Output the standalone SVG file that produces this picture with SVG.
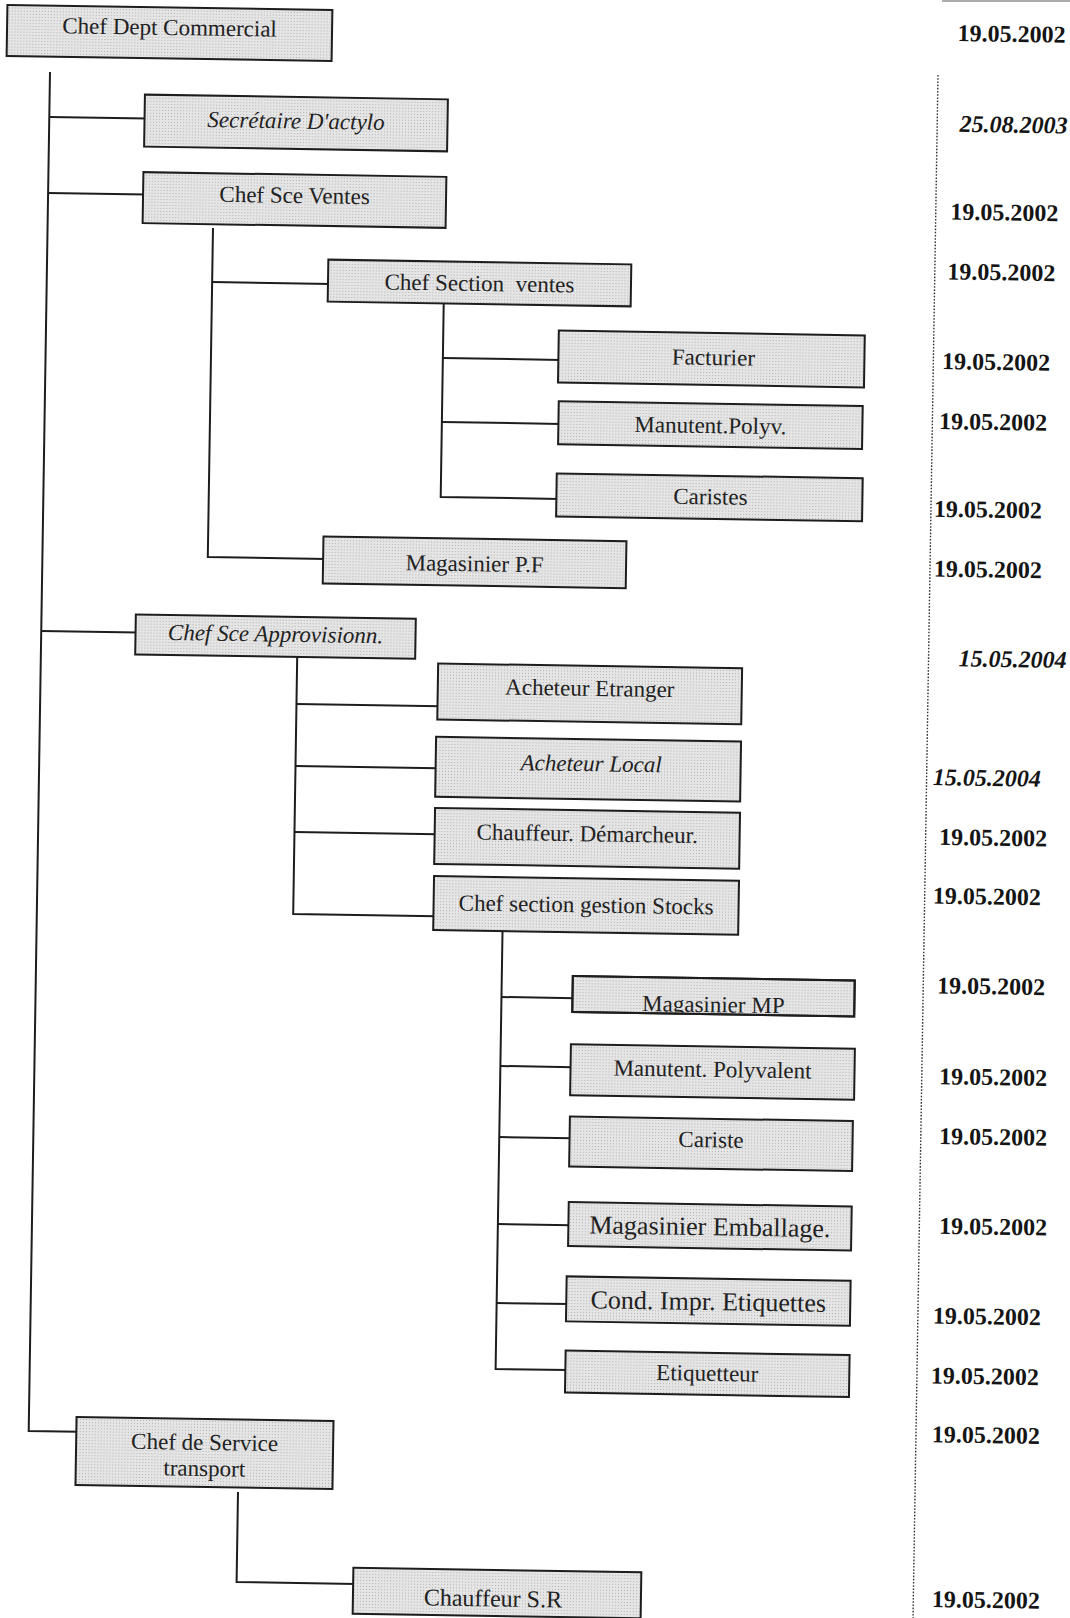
<svg xmlns="http://www.w3.org/2000/svg" width="1070" height="1618" viewBox="0 0 1070 1618">
  <defs>
    <!-- fine halftone used as the box fill -->
    <pattern id="stipple" width="3" height="3" patternUnits="userSpaceOnUse">
      <rect width="3" height="3" fill="#e5e5e5"/>
      <rect x="1" y="1" width="1" height="1" fill="#b2b2b2"/>
    </pattern>
    <clipPath id="clip-mp"><rect x="-140" y="-17" width="280" height="34"/></clipPath>
  </defs>
  <style>
    .box{fill:url(#stipple);stroke:#1d1d1d;stroke-width:2}
    .lbl{font-family:'Liberation Serif','Times New Roman',serif;font-size:23px;fill:#222;text-anchor:middle}
    .it{font-style:italic}
    .lg{font-size:26px}
    .date{font-family:'Liberation Serif','Times New Roman',serif;font-size:24px;font-weight:bold;fill:#151515}
    .wire{fill:none;stroke:#1d1d1d;stroke-width:2}
    .guide{fill:none;stroke:#333;stroke-width:1.4;stroke-dasharray:1.6 1.6}
  </style>

  <rect width="1070" height="1618" fill="#ffffff"/>
  <line x1="942" y1="1" x2="1070" y2="1" stroke="#8a8a8a" stroke-width="2" opacity="0.7"/>

  <!-- dotted rule separating the dates column -->
  <line class="guide" x1="938" y1="75" x2="913" y2="1618"/>

  <!-- org-chart connectors -->
  <g id="connectors" class="wire">
    <path d="M50,72 L28.7,1431 L79,1431.8"/>
    <path d="M49.3,117 L147,118.5"/>
    <path d="M48.1,193 L146,194.5"/>
    <path d="M41.2,631 L138,632.5"/>
    <path d="M213,228 L207.8,557 L326,558.9"/>
    <path d="M212.2,282 L331,283.9"/>
    <path d="M443.7,304 L440.7,497 L559,498.9"/>
    <path d="M442.9,358 L561,359.9"/>
    <path d="M441.9,422 L561,423.9"/>
    <path d="M297.2,657 L293.2,914 L436.5,916.2"/>
    <path d="M296.5,704 L440.5,706.3"/>
    <path d="M295.5,766 L438.5,768.3"/>
    <path d="M294.5,832 L437.5,834.3"/>
    <path d="M502.5,932 L495.6,1369 L568.5,1370.1"/>
    <path d="M501.5,997 L575.5,998.2"/>
    <path d="M500.4,1066 L573.5,1067.2"/>
    <path d="M499.3,1137 L572.5,1138.2"/>
    <path d="M497.9,1224 L571.5,1225.2"/>
    <path d="M496.7,1303 L569.5,1304.1"/>
    <path d="M238,1492 L236.6,1582 L356,1583.9"/>
  </g>

  <!-- positions -->
  <g id="n-chef-dept" transform="translate(169.5,33) rotate(0.9)">
    <rect class="box" x="-162.5" y="-25.5" width="325" height="51"/>
    <text class="lbl" y="2">Chef Dept Commercial</text>
  </g>
  <g id="n-secretaire" transform="translate(296,123) rotate(0.9)">
    <rect class="box" x="-151.5" y="-26" width="303" height="52"/>
    <text class="lbl it" y="5.5">Secrétaire D'actylo</text>
  </g>
  <g id="n-chef-ventes" transform="translate(294.5,200) rotate(0.9)">
    <rect class="box" x="-151.5" y="-25.5" width="303" height="51"/>
    <text class="lbl" y="3">Chef Sce Ventes</text>
  </g>
  <g id="n-section-ventes" transform="translate(479.5,283) rotate(0.9)">
    <rect class="box" x="-151.5" y="-21" width="303" height="42"/>
    <text class="lbl" y="8">Chef Section&#160; ventes</text>
  </g>
  <g id="n-facturier" transform="translate(711.4,359) rotate(0.9)">
    <rect class="box" x="-153" y="-26" width="306" height="52"/>
    <text class="lbl" x="2" y="6">Facturier</text>
  </g>
  <g id="n-manutent-polyv" transform="translate(710.4,425.1) rotate(0.9)">
    <rect class="box" x="-152" y="-21.5" width="304" height="43"/>
    <text class="lbl" y="8">Manutent.Polyv.</text>
  </g>
  <g id="n-caristes" transform="translate(709.4,497.3) rotate(0.9)">
    <rect class="box" x="-153" y="-21.5" width="306" height="43"/>
    <text class="lbl" x="1" y="7">Caristes</text>
  </g>
  <g id="n-magasinier-pf" transform="translate(474.6,562.3) rotate(0.9)">
    <rect class="box" x="-151.5" y="-23.5" width="303" height="47"/>
    <text class="lbl" y="9">Magasinier P.F</text>
  </g>
  <g id="n-chef-appro" transform="translate(275.5,636.6) rotate(0.9)">
    <rect class="box" x="-140" y="-20" width="280" height="40"/>
    <text class="lbl it" y="5">Chef Sce Approvisionn.</text>
  </g>
  <g id="n-acheteur-etranger" transform="translate(589.7,693.9) rotate(0.9)">
    <rect class="box" x="-152" y="-28" width="304" height="56"/>
    <text class="lbl" y="2">Acheteur Etranger</text>
  </g>
  <g id="n-acheteur-local" transform="translate(588.1,769.2) rotate(0.9)">
    <rect class="box" x="-152.5" y="-30" width="305" height="60"/>
    <text class="lbl it" x="3" y="2">Acheteur Local</text>
  </g>
  <g id="n-chauffeur-demarcheur" transform="translate(587.1,838.3) rotate(0.9)">
    <rect class="box" x="-152.5" y="-28" width="305" height="56"/>
    <text class="lbl" y="3">Chauffeur. Démarcheur.</text>
  </g>
  <g id="n-section-stocks" transform="translate(586.1,905.4) rotate(0.9)">
    <rect class="box" x="-152.5" y="-27" width="305" height="54"/>
    <text class="lbl" y="7">Chef section gestion Stocks</text>
  </g>
  <g id="n-magasinier-mp" transform="translate(713.5,996.2) rotate(0.9)">
    <rect class="box" x="-141" y="-18" width="282" height="36"/>
    <text class="lbl" y="16" clip-path="url(#clip-mp)">Magasinier MP</text>
    <rect x="-141" y="-18" width="282" height="36" fill="none" stroke="#1d1d1d" stroke-width="2"/>
  </g>
  <g id="n-manutent-polyvalent" transform="translate(712.5,1072) rotate(0.9)">
    <rect class="box" x="-142" y="-25.5" width="284" height="51"/>
    <text class="lbl" y="5">Manutent. Polyvalent</text>
  </g>
  <g id="n-cariste" transform="translate(711,1143.8) rotate(0.9)">
    <rect class="box" x="-141.5" y="-25" width="283" height="50"/>
    <text class="lbl" y="3.5">Cariste</text>
  </g>
  <g id="n-magasinier-emballage" transform="translate(709.9,1226.3) rotate(0.9)">
    <rect class="box" x="-141.5" y="-22" width="283" height="44"/>
    <text class="lbl lg" y="9">Magasinier Emballage.</text>
  </g>
  <g id="n-cond-impr" transform="translate(708.3,1301.1) rotate(0.9)">
    <rect class="box" x="-142" y="-22.5" width="284" height="45"/>
    <text class="lbl lg" y="9">Cond. Impr. Etiquettes</text>
  </g>
  <g id="n-etiquetteur" transform="translate(707.3,1373.8) rotate(0.9)">
    <rect class="box" x="-142" y="-21" width="284" height="42"/>
    <text class="lbl" y="7">Etiquetteur</text>
  </g>
  <g id="n-chef-transport" transform="translate(204.5,1453) rotate(0.9)">
    <rect class="box" x="-128.5" y="-34" width="257" height="68"/>
    <text class="lbl" y="-3">Chef de Service</text>
    <text class="lbl" y="23">transport</text>
  </g>
  <g id="n-chauffeur-sr" transform="translate(497,1593) rotate(0.9)">
    <rect class="box" x="-144" y="-23" width="288" height="46"/>
    <text class="lbl" x="-4" y="13.5" style="font-size:24px">Chauffeur S.R</text>
  </g>

  <!-- dates column -->
  <g id="dates">
    <text class="date" transform="translate(957.5,41) rotate(0.9)">19.05.2002</text>
    <text class="date it" transform="translate(959.6,131.8) rotate(0.9)">25.08.2003</text>
    <text class="date" transform="translate(950.3,219.5) rotate(0.9)">19.05.2002</text>
    <text class="date" transform="translate(947.2,279.4) rotate(0.9)">19.05.2002</text>
    <text class="date" transform="translate(942,369.1) rotate(0.9)">19.05.2002</text>
    <text class="date" transform="translate(939,429) rotate(0.9)">19.05.2002</text>
    <text class="date" transform="translate(933.8,516.7) rotate(0.9)">19.05.2002</text>
    <text class="date" transform="translate(933.8,576.5) rotate(0.9)">19.05.2002</text>
    <text class="date it" transform="translate(958.5,666.3) rotate(0.9)">15.05.2004</text>
    <text class="date it" transform="translate(932.7,785) rotate(0.9)">15.05.2004</text>
    <text class="date" transform="translate(939,844.8) rotate(0.9)">19.05.2002</text>
    <text class="date" transform="translate(932.7,903.6) rotate(0.9)">19.05.2002</text>
    <text class="date" transform="translate(936.9,993.4) rotate(0.9)">19.05.2002</text>
    <text class="date" transform="translate(939,1084.2) rotate(0.9)">19.05.2002</text>
    <text class="date" transform="translate(939,1144) rotate(0.9)">19.05.2002</text>
    <text class="date" transform="translate(939,1233.8) rotate(0.9)">19.05.2002</text>
    <text class="date" transform="translate(932.7,1323.5) rotate(0.9)">19.05.2002</text>
    <text class="date" transform="translate(930.7,1383.4) rotate(0.9)">19.05.2002</text>
    <text class="date" transform="translate(931.7,1442.2) rotate(0.9)">19.05.2002</text>
    <text class="date" transform="translate(931.7,1607) rotate(0.9)">19.05.2002</text>
  </g>
</svg>
